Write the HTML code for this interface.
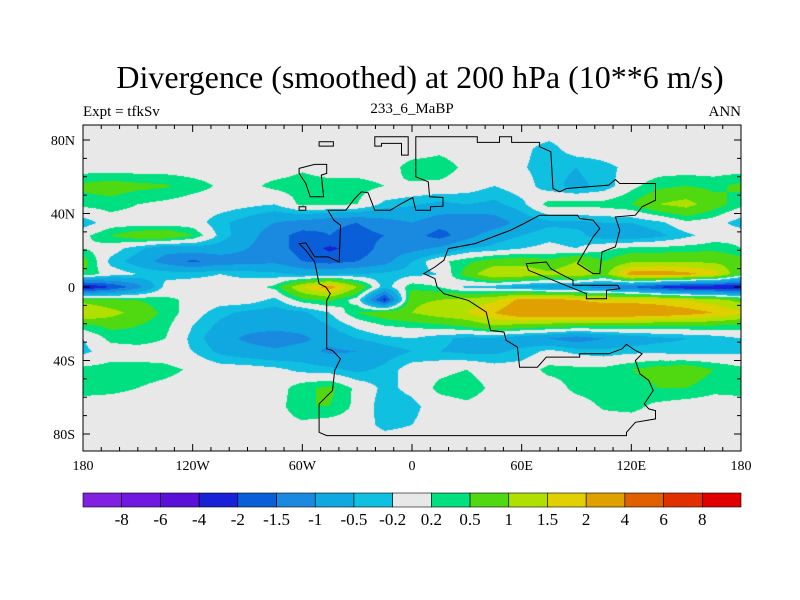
<!DOCTYPE html>
<html><head><meta charset="utf-8"><style>
body{margin:0;background:#fff;}
#wrap{position:relative;width:800px;height:600px;font-family:"Liberation Serif",serif;}
canvas,svg{position:absolute;left:0;top:0;}
</style></head><body>
<div id="wrap">
<canvas id="cv" width="800" height="600"></canvas>
<svg id="sv" width="800" height="600"></svg>
</div>
<script>
const lons=[-180,-165,-150,-135,-120,-105,-90,-75,-60,-45,-30,-15,0,15,30,45,60,75,90,105,120,135,150,165];
const lats=[85,75,65,55,45,35,28,21,14,7,0,-7,-14,-21,-28,-35,-45,-55,-65,-75,-85];
const field=[
[0,0,0,0,0,0,0,0,0,0,0,0,0,0,0,0,0,0,0,0,0,0,0,0],
[0,0,0,0,0,0,0,0,0,0,0,0,0,0.1,0,0,-0.1,-0.35,0,0,0,0,0,0],
[0,0,0,0,0,0,0,0,0.15,0,0,0,0.35,0.4,0.1,0,-0.15,-0.4,-0.5,-0.3,-0.1,0,0,0],
[0.6,0.7,0.6,0.55,0.35,0.15,0.1,0.3,0.35,0.35,0.35,0.2,0.15,0.1,0,-0.2,0,-0.4,-0.6,-0.4,0.1,0.4,0.5,0.4],
[0.3,0.35,0.2,0.1,0,0,-0.1,-0.2,0.3,0.25,0.2,-0.3,-0.45,-0.6,-0.5,-0.6,-0.3,0.35,0.35,0.35,0.5,1.0,1.2,0.7],
[-0.4,0,0,0,0,-0.4,-0.7,-1.0,-1.2,-1.4,-1.5,-1.2,-1.0,-1.3,-1.5,-1.3,-0.8,-0.6,-0.6,-0.5,-0.5,-0.3,0.1,0],
[0.1,0.5,0.8,0.9,0.5,-0.3,-0.8,-1.3,-1.7,-1.5,-1.7,-1.5,-1.3,-1.7,-1.2,-0.7,-0.5,-0.3,-0.4,-0.7,-0.8,-0.6,-0.3,0],
[0.2,0,-0.4,-0.8,-0.7,-0.7,-1.0,-1.3,-1.7,-2.1,-1.8,-1.3,-1.2,-0.9,-0.5,-0.4,-0.2,-0.1,-0.2,0.1,0.3,0.3,0.35,0.4],
[0.7,-0.3,-0.7,-1.2,-1.6,-1.3,-1.2,-1.1,-1.5,-1.7,-1.5,-1.2,-0.5,0.1,0.4,0.7,0.8,0.6,1.0,0.5,0.9,0.9,0.9,0.9],
[0.5,0,-0.2,-0.3,-0.3,-0.2,-0.3,-0.4,-0.6,-0.6,-0.5,-0.4,-0.3,-0.2,0.7,1.5,1.4,1.1,1.4,0.8,2.3,2.4,2.2,1.8],
[-2.6,-2.0,-1.2,-0.1,0,0,0,0.3,1.5,2.3,1.0,-0.4,0.4,0.2,-0.3,-0.4,-0.7,-0.9,-1.0,-1.2,-1.5,-2.1,-2.5,-2.5],
[0.8,0.6,0.5,0.3,0.1,0,0,-0.3,0.4,0.6,0,-2.2,0.9,1.0,1.2,1.4,2.2,2.2,2.0,1.8,1.8,1.7,1.5,1.2],
[1.6,1.2,0.8,0.4,0,-0.4,-0.6,-0.7,-0.6,-0.2,0.5,0.8,1.0,1.3,1.5,2.0,2.6,2.6,2.6,2.6,2.6,2.5,2.3,2.0],
[0.4,0.6,0.5,0.3,-0.2,-0.6,-0.8,-0.8,-0.8,-0.5,-0.1,0.2,0.3,0.4,0.6,1.0,0.8,0.7,0.6,0.6,0.6,0.5,0.5,0.5],
[-0.2,0.3,0.4,0.2,-0.3,-0.8,-1.1,-1.3,-1.1,-0.8,-0.5,-0.3,-0.2,-0.4,-0.6,-0.6,-0.8,-1.0,-1.3,-1.0,-0.8,-0.6,-0.5,-0.4],
[-0.3,0,0,0,-0.2,-0.6,-0.8,-0.9,-0.8,-1.1,-1.0,-0.7,-0.5,-0.5,-0.6,-0.6,-0.4,-0.1,-0.3,-0.4,-0.3,-0.3,-0.4,-0.3],
[0.3,0.35,0.35,0.3,0.15,0,0,-0.1,-0.3,-0.4,-0.6,-0.4,0,0.1,0.2,0,0,0.3,0.3,0.3,0.5,0.7,0.8,0.5],
[0.35,0.3,0.2,0.1,0,0,0,0,0.4,0.6,0.1,-0.3,-0.1,0.3,0.4,0.1,0,0,0.3,0.4,0.3,0.5,0.5,0.3],
[0,0,0,0,0,0,0,0,0.5,0.5,0.1,-0.4,-0.3,0,0.1,0,0,0,0,0.25,0.3,0.1,0,0],
[0,0,0,0,0,0,0,0,0.1,0,0,-0.3,-0.2,0,0,0,0,0,0,0,0,0,0,0],
[0,0,0,0,0,0,0,0,0,0,0,0,0,0,0,0,0,0,0,0,0,0,0,0]];
const levels=[-8,-6,-4,-2,-1.5,-1,-0.5,-0.2,0.2,0.5,1,1.5,2,4,6,8];
const levelLabels=["-8","-6","-4","-2","-1.5","-1","-0.5","-0.2","0.2","0.5","1","1.5","2","4","6","8"];
const palette=["#8020e0","#7018e0","#5a10d8","#1820d8","#0a5fd8","#1a8ae0","#10a8e0","#10c0e0","#e8e8e8","#00e080","#50d810","#b0e000","#e0d000","#e0a000","#e06000","#e03000","#e00000"];
const xTicks=[-180,-120,-60,0,60,120,180];
const xTickLabels=["180","120W","60W","0","60E","120E","180"];
const yTicks=[80,40,0,-40,-80];
const yTickLabels=["80N","40N","0","40S","80S"];

const PL=83,PR=741,PT=125,PB=451,EQ=287,KY=1.8375;
const xs=lon=>PL+(lon+180)*(PR-PL)/360;
const ys=lat=>EQ-lat*KY;
function val(lon,lat){
  let f=(lon+180)/15; let i0=Math.floor(f); let t=f-i0;
  i0=((i0%24)+24)%24; const i1=(i0+1)%24;
  let j=0; while(j<lats.length-2&&lat<lats[j+1]) j++;
  let u=(lats[j]-lat)/(lats[j]-lats[j+1]); u=Math.max(0,Math.min(1,u));
  const a=field[j][i0]*(1-t)+field[j][i1]*t, b=field[j+1][i0]*(1-t)+field[j+1][i1]*t;
  return a*(1-u)+b*u;
}
function cls(v){let k=0;while(k<levels.length&&v>=levels[k])k++;return k;}
function hex(h){return [parseInt(h.substr(1,2),16),parseInt(h.substr(3,2),16),parseInt(h.substr(5,2),16)];}
const pal=palette.map(hex);
const ctx=document.getElementById('cv').getContext('2d');
const img=ctx.createImageData(PR-PL,PB-PT);
for(let y=PT;y<PB;y++)for(let x=PL;x<PR;x++){
  const lon=(x+0.5-PL)*360/(PR-PL)-180, lat=(EQ-(y+0.5))/KY;
  const c=pal[cls(val(lon,lat))]; const o=((y-PT)*(PR-PL)+(x-PL))*4;
  img.data[o]=c[0];img.data[o+1]=c[1];img.data[o+2]=c[2];img.data[o+3]=255;
}
ctx.putImageData(img,PL,PT);

const NS='http://www.w3.org/2000/svg',sv=document.getElementById('sv');
function mk(tag,at,txt){const e=document.createElementNS(NS,tag);for(const k in at)e.setAttribute(k,at[k]);if(txt!==undefined)e.textContent=txt;sv.appendChild(e);return e;}
const outlines=[
[[797,50],[935,50],[935,67],[985,67],[985,50],[1012,50],[1012,67],[1075,67],[1075,80],[1100,95],[1105,205],[1120,215],[1135,205],[1230,195],[1245,178],[1255,190],[1335,190],[1335,240],[1305,260],[1290,285],[1245,290],[1255,330],[1245,380],[1215,395],[1210,460],[1195,460],[1160,430],[1195,350],[1210,325],[1195,300],[1165,295],[1160,285],[1075,285],[1040,310],[1010,330],[930,370],[870,385],[860,420],[840,440],[815,460],[840,475],[845,500],[860,520],[915,540],[955,575],[965,630],[995,635],[1000,660],[1025,680],[1030,740],[1070,740],[1090,710],[1165,710],[1165,700],[1230,700],[1260,685],[1270,672],[1290,690],[1305,700],[1290,720],[1300,760],[1320,780],[1330,810],[1310,850],[1320,865],[1335,870],[1335,895],[1290,905],[1270,935],[1270,945],[597,945],[580,935],[580,850],[610,810],[615,750],[628,715],[610,690],[597,685],[597,540],[605,520],[595,500],[580,490],[570,425],[550,390],[535,370],[550,368],[570,410],[600,410],[625,425],[628,315],[613,300],[600,270],[640,270],[660,235],[675,215],[690,218],[705,270],[740,270],[765,250],[790,232],[797,270],[830,270],[830,260],[858,258],[858,232],[828,230],[825,185],[797,170]],
[[1045,430],[1090,425],[1100,445],[1120,460],[1150,480],[1150,495],[1250,495],[1255,505],[1225,510],[1225,535],[1180,535],[1180,520],[1050,450]],
[[705,50],[780,50],[780,105],[765,105],[765,70],[720,70],[720,78],[705,78]],
[[580,65],[612,65],[612,78],[580,78]],
[[535,145],[570,133],[597,133],[597,160],[585,165],[590,230],[560,230],[550,190],[535,160]],
[[535,260],[550,260],[550,270],[535,270]]];
outlines.forEach((p,i)=>{
  const e=mk('polygon',{points:p.map(q=>(83+(q[0]-50)*0.4455).toFixed(1)+','+(120+q[1]*0.334).toFixed(1)).join(' '),fill:'none',stroke:'#000','stroke-width':1});
  
  
});
const fr=mk('rect',{x:PL,y:PT,width:PR-PL,height:PB-PT,fill:'none',stroke:'#000','stroke-width':1});


for(let lon=-180;lon<=180;lon+=10){const L=(lon%60===0)?7:4,x=xs(lon);
  mk('line',{x1:x,y1:PB,x2:x,y2:PB-L,stroke:'#000'});mk('line',{x1:x,y1:PT,x2:x,y2:PT+L,stroke:'#000'});}
for(let lat=-80;lat<=80;lat+=10){const L=(lat%40===0)?7:4,y=ys(lat);
  mk('line',{x1:PL,y1:y,x2:PL+L,y2:y,stroke:'#000'});mk('line',{x1:PR,y1:y,x2:PR-L,y2:y,stroke:'#000'});}
xTicks.forEach((v,i)=>{const t=mk('text',{x:xs(v),y:470,'text-anchor':'middle','font-size':14},xTickLabels[i]);
  
  });
yTicks.forEach((v,i)=>{const t=mk('text',{x:75,y:ys(v)+5,'text-anchor':'end','font-size':14},yTickLabels[i]);
  
  });
const ti=mk('text',{x:420,y:88,'text-anchor':'middle','font-size':32},'Divergence (smoothed) at 200 hPa (10**6 m/s)');


const s1=mk('text',{x:83,y:116,'font-size':15},'Expt = tfkSv');


const s2=mk('text',{x:412,y:113,'text-anchor':'middle','font-size':15},'233_6_MaBP');


const s3=mk('text',{x:741,y:116,'text-anchor':'end','font-size':15},'ANN');


const bw=(PR-PL)/palette.length;
palette.forEach((c,i)=>{const r=mk('rect',{x:PL+i*bw,y:493,width:bw,height:14,fill:c,stroke:'#000','stroke-width':0.6});
  
  });
levelLabels.forEach((s,i)=>{const t=mk('text',{x:PL+(i+1)*bw,y:525,'text-anchor':'middle','font-size':17},s);
  
  });
</script>
</body></html>
